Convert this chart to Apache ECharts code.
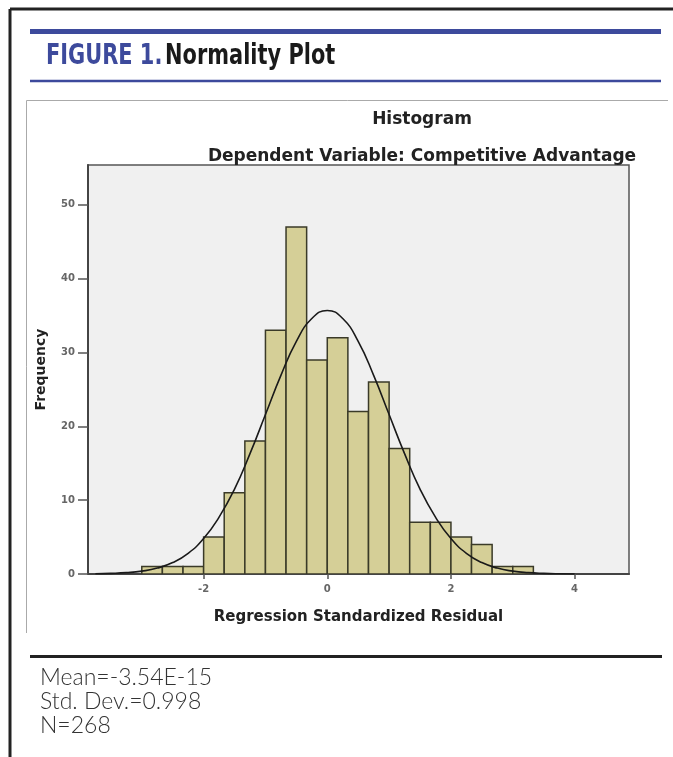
<!DOCTYPE html>
<html>
<head>
<meta charset="utf-8">
<script src="https://cdn.jsdelivr.net/npm/echarts@6/dist/echarts.min.js"></script>
<style>
  html, body { margin: 0; padding: 0; background: #fff; }
  #chart { width: 673px; height: 757px; }
</style>
</head>
<body>
<div id="chart"></div>
<script>
// histogram bins (lower edge) and counts, N = 268
var binStart = [-3.000, -2.667, -2.333, -2.000, -1.667, -1.333, -1.000, -0.667, -0.333,
                0.000, 0.333, 0.667, 1.000, 1.333, 1.667, 2.000, 2.333, 2.667, 3.000];
var binWidth = 0.3333;
var counts = [1, 1, 1, 5, 11, 18, 33, 47, 29, 32, 22, 26, 17, 7, 7, 5, 4, 1, 1];

// normal curve
var curveX = [-3.75, -3.5, -3.25, -3.0, -2.75, -2.5, -2.25, -2.0, -1.75, -1.5, -1.25, -1.0,
              -0.75, -0.5, -0.25, 0, 0.25, 0.5, 0.75, 1.0, 1.25, 1.5, 1.75, 2.0, 2.25, 2.5,
              2.75, 3.0, 3.25, 3.5, 3.75, 4.0];
var curveY = [0.03, 0.08, 0.18, 0.39, 0.80, 1.55, 2.8, 4.8, 7.7, 11.5, 16.3, 21.6,
              26.9, 31.5, 34.6, 35.7, 34.6, 31.5, 26.9, 21.6, 16.3, 11.5, 7.7, 4.8, 2.8, 1.55,
              0.80, 0.39, 0.18, 0.08, 0.03, 0.01];

var xTicks = [-2, 0, 2, 4];
var yTicks = [0, 10, 20, 30, 40, 50];

var statsLines = ['Mean=-3.54E-15', 'Std. Dev.=0.998', 'N=268'];

var chart = echarts.init(document.getElementById('chart'));

var barData = binStart.map(function (s, i) { return [s, s + binWidth, counts[i]]; });
var lineData = curveX.map(function (x, i) { return [x, curveY[i]]; });

var labelFont = '"DejaVu Sans", "Liberation Sans", sans-serif';
var headFont = '"Liberation Sans Narrow", "DejaVu Sans Condensed", sans-serif';

var option = {
    animation: false,
    backgroundColor: '#fff',
    grid: {
        left: 88, top: 165, width: 541, height: 409,
        show: true, backgroundColor: '#f0f0f0',
        borderColor: '#555', borderWidth: 1.5
    },
    xAxis: {
        type: 'value', min: -3.87, max: 4.88,
        splitLine: { show: false },
        axisLine: { onZero: false, lineStyle: { color: '#444', width: 2 } },
        axisTick: { customValues: xTicks, length: 5, lineStyle: { color: '#555', width: 1.5 } },
        axisLabel: { customValues: xTicks, color: '#666', fontWeight: 'bold', fontSize: 10, margin: 10, fontFamily: labelFont },
        name: 'Regression Standardized Residual',
        nameLocation: 'middle', nameGap: 36,
        nameTextStyle: { color: '#222', fontWeight: 'bold', fontSize: 15, fontFamily: labelFont }
    },
    yAxis: {
        type: 'value', min: 0, max: 55.4,
        splitLine: { show: false },
        axisLine: { show: true, onZero: false, lineStyle: { color: '#444', width: 2 } },
        axisTick: { show: true, customValues: yTicks, length: 10, lineStyle: { color: '#555', width: 1.5 } },
        axisLabel: { customValues: yTicks, color: '#666', fontWeight: 'bold', fontSize: 10, margin: 13, fontFamily: labelFont },
        name: 'Frequency',
        nameLocation: 'middle', nameGap: 40, nameRotate: 90,
        nameTextStyle: { color: '#222', fontWeight: 'bold', fontSize: 14, fontFamily: labelFont }
    },
    series: [{
        type: 'custom',
        data: barData,
        clip: true,
        renderItem: function (params, api) {
            var p0 = api.coord([api.value(0), api.value(2)]);
            var p1 = api.coord([api.value(1), 0]);
            return {
                type: 'rect',
                shape: { x: p0[0], y: p0[1], width: p1[0] - p0[0], height: p1[1] - p0[1] },
                style: { fill: '#d5cf97', stroke: '#3a3a28', lineWidth: 1.5 }
            };
        },
        z: 2
    }, {
        type: 'line',
        data: lineData,
        smooth: true,
        showSymbol: false,
        lineStyle: { color: '#1a1a1a', width: 1.6 },
        z: 3
    }],
    graphic: [
        // outer frame
        { type: 'line', shape: { x1: 10, y1: 9, x2: 673, y2: 9 }, style: { stroke: '#222', lineWidth: 3 } },
        { type: 'line', shape: { x1: 10, y1: 9, x2: 10, y2: 757 }, style: { stroke: '#222', lineWidth: 3 } },
        // header rules
        { type: 'line', shape: { x1: 30, y1: 31.5, x2: 661, y2: 31.5 }, style: { stroke: '#3d4a9c', lineWidth: 5 } },
        { type: 'line', shape: { x1: 30, y1: 81, x2: 661, y2: 81 }, style: { stroke: '#3d4a9c', lineWidth: 2.5 } },
        {
            type: 'text', x: 46, y: 57, scaleX: 0.83,
            style: {
                text: '{a|FIGURE 1.} {b|Normality Plot}',
                verticalAlign: 'middle',
                rich: {
                    a: { fill: '#3d4a9c', fontSize: 28, fontWeight: 'bold', fontFamily: headFont },
                    b: { fill: '#1a1a1a', fontSize: 28, fontWeight: 'bold', fontFamily: headFont }
                }
            }
        },
        // SPSS image box edges
        { type: 'line', shape: { x1: 26.5, y1: 100.5, x2: 668, y2: 100.5 }, style: { stroke: '#aaa', lineWidth: 1 } },
        { type: 'line', shape: { x1: 26.5, y1: 100.5, x2: 26.5, y2: 633 }, style: { stroke: '#aaa', lineWidth: 1 } },
        {
            type: 'text', x: 422, y: 120,
            style: { text: 'Histogram', textAlign: 'center', verticalAlign: 'middle', fill: '#222', fontSize: 17, fontWeight: 'bold', fontFamily: labelFont }
        },
        {
            type: 'text', x: 422, y: 157,
            style: { text: 'Dependent Variable: Competitive Advantage', textAlign: 'center', verticalAlign: 'middle', fill: '#222', fontSize: 17, fontWeight: 'bold', fontFamily: labelFont }
        },
        // bottom rule and stats
        { type: 'line', shape: { x1: 30, y1: 656.5, x2: 662, y2: 656.5 }, style: { stroke: '#222', lineWidth: 3 } },
        {
            type: 'text', x: 40, y: 666,
            style: { text: statsLines.join('\n'), fill: '#333', fontSize: 23, lineHeight: 24, fontWeight: 300, fontFamily: 'Lato, "Open Sans", sans-serif' }
        }
    ]
};

chart.setOption(option);
</script>
</body>
</html>
